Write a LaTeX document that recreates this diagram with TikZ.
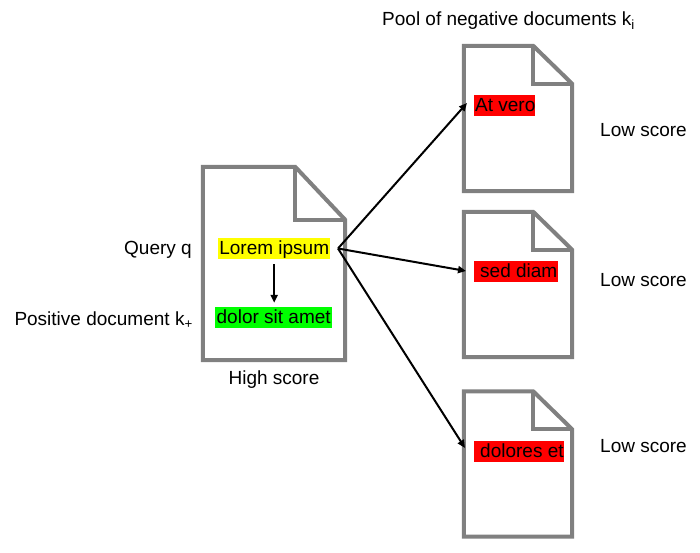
\documentclass[tikz,border=0pt]{standalone}
\usepackage{fontspec}
\setmainfont{Liberation Sans}
\usetikzlibrary{arrows.meta}
\definecolor{docgray}{RGB}{128,128,128}
\definecolor{hlyellow}{RGB}{255,255,0}
\definecolor{hlgreen}{RGB}{0,255,0}
\definecolor{hlred}{RGB}{255,0,0}
\tikzset{
  txt/.style={font=\fontsize{19pt}{22pt}\selectfont, inner sep=0pt, text height=15pt, text depth=3pt},
  hl/.style={txt, inner ysep=1.5pt, inner xsep=0pt, anchor=west},
  docframe/.style={draw=none, inner sep=0pt},
  docline/.style={draw=docgray, line width=4pt, line join=miter, fill=white},
  foldline/.style={draw=docgray, line width=4pt, line join=miter},
  arr/.style={draw=black, line width=2pt, -{Triangle[length=8pt,width=7pt]}},
}
\begin{document}
\begin{tikzpicture}[x=1pt,y=-1pt]
\fill[white] (0,0) rectangle (700,553);
\useasboundingbox (0,0) rectangle (700,553);

% main document
\node[docframe, minimum width=142pt, minimum height=193pt] (dm) at (274,263.5) {};
\draw[docline] (dm.north west) -- ([xshift=-50pt]dm.north east) -- ([yshift=-53pt]dm.north east) -- (dm.south east) -- (dm.south west) -- cycle;
\draw[foldline] ([xshift=-50pt]dm.north east) -- ([xshift=-50pt,yshift=-53pt]dm.north east) -- ([yshift=-53pt]dm.north east);

% negative documents
\foreach \n/\cy in {d1/118.5, d2/284.5, d3/464} {
  \node[docframe, minimum width=108pt, minimum height=145pt] (\n) at (518,\cy) {};
  \draw[docline] (\n.north west) -- ([xshift=-39pt]\n.north east) -- ([yshift=-38pt]\n.north east) -- (\n.south east) -- (\n.south west) -- cycle;
  \draw[foldline] ([xshift=-39pt]\n.north east) -- ([xshift=-39pt,yshift=-38pt]\n.north east) -- ([yshift=-38pt]\n.north east);
}

% highlighted texts
\node[hl, fill=hlyellow] (lorem) at (218,248.5) {\makebox[112pt][c]{Lorem ipsum}};
\node[hl, fill=hlgreen] (dolor) at (215,317.5) {\makebox[117pt][c]{dolor sit amet}};
\node[hl, fill=hlred] (n1) at (474,106) {\makebox[61pt][l]{\hspace{1pt}At vero}};
\node[hl, fill=hlred] (n2) at (474,271.5) {\makebox[84pt][l]{\hspace{6pt}sed diam}};
\node[hl, fill=hlred] (n3) at (474,451) {\makebox[90pt][l]{\hspace{6pt}dolores et}};

% plain labels
\node[txt, anchor=west] (pool) at (382,20) {Pool of negative documents k\textsubscript{i}};
\node[txt, anchor=east] (query) at (192,248.5) {Query q};
\node[txt, anchor=east] (pos) at (193,319.5) {Positive document k\textsubscript{+}};
\node[txt] (high) at (274,378.5) {High score};
\node[txt, anchor=west] (low1) at (600,130.5) {Low score};
\node[txt, anchor=west] (low2) at (600,280.5) {Low score};
\node[txt, anchor=west] (low3) at (600,446.5) {Low score};

% connectors
\coordinate (src) at (338,248.5);
\coordinate (t1) at (467,103);
\coordinate (t2) at (466,271);
\coordinate (t3) at (465,448);
\draw[arr] (src) -- (t1);
\draw[arr] (src) -- (t2);
\draw[arr] (src) -- (t3);
\draw[arr, shorten <=5pt, shorten >=4pt] (lorem.south) -- (lorem.south |- dolor.north);
\end{tikzpicture}
\end{document}
